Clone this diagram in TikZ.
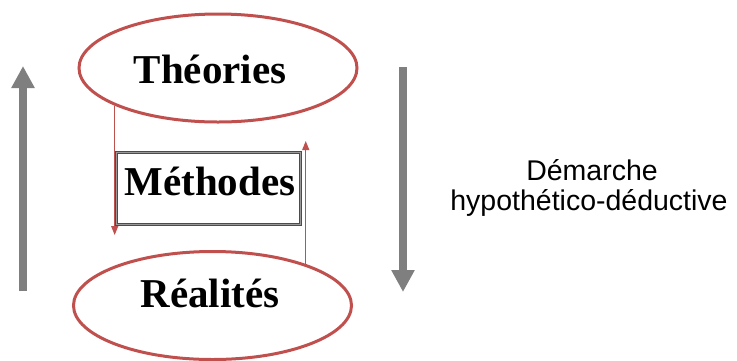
\documentclass[tikz,border=0pt]{standalone}
\usepackage{fontspec}
\setmainfont{Liberation Serif}
\newfontfamily\sansf{Liberation Sans}
\usetikzlibrary{shapes.geometric,arrows.meta}
\definecolor{ered}{HTML}{C0504D}
\definecolor{agray}{HTML}{7F7F7F}
\tikzset{
  oval/.style={ellipse, draw=ered, line width=3pt, minimum width=278pt, minimum height=108pt, inner sep=0pt},
  bigtxt/.style={font=\fontsize{41}{45}\selectfont\bfseries, anchor=base, inner sep=0pt},
  boxnode/.style={rectangle, draw=black!70, double=black!40, double distance=1.2pt, line width=1.3pt, minimum width=184pt, minimum height=72pt, inner sep=0pt},
  redline/.style={draw=ered, line width=1.2pt, -{Triangle[length=9pt,width=7pt]}},
  grayarrow/.style={draw=agray, line width=8pt, -{Triangle[length=22pt,width=22pt]}, shorten >=-1pt},
  sidetxt/.style={font=\sansf\fontsize{28.5}{30}\selectfont, anchor=base, inner sep=0pt},
}
\begin{document}
\begin{tikzpicture}[x=1pt,y=-1pt]
\useasboundingbox (0,0) rectangle (737,360);
% ellipses
\node[oval] (theo) at (218,68) {};
\node[oval] (real) at (212.5,305.5) {};
\node[bigtxt] (theotxt) at (210,83) {Théories};
\node[bigtxt] (realtxt) at (210,307) {Réalités};
% box
\node[boxnode] (meth) at (208.5,188.5) {};
\node[bigtxt] (methtxt) at (210,195) {Méthodes};
% red connectors
\coordinate (lend) at (117,235);
\coordinate (rend) at (302,141);
\draw[redline] (theo.200.7) -- (theo.200.7 |- lend);
\draw[redline] (real.24.3) -- (real.24.3 |- rend);
% gray arrows
\coordinate (lbot) at (23,291);
\coordinate (ltop) at (23,67);
\coordinate (rtop) at (403,67);
\coordinate (rbot) at (403,291);
\draw[grayarrow] (lbot) -- (ltop);
\draw[grayarrow] (rtop) -- (rbot);
% side text
\node[sidetxt] (dem) at (592,180) {Démarche};
\node[sidetxt] (hyp) at (589,210) {hypothético-déductive};
\end{tikzpicture}
\end{document}
